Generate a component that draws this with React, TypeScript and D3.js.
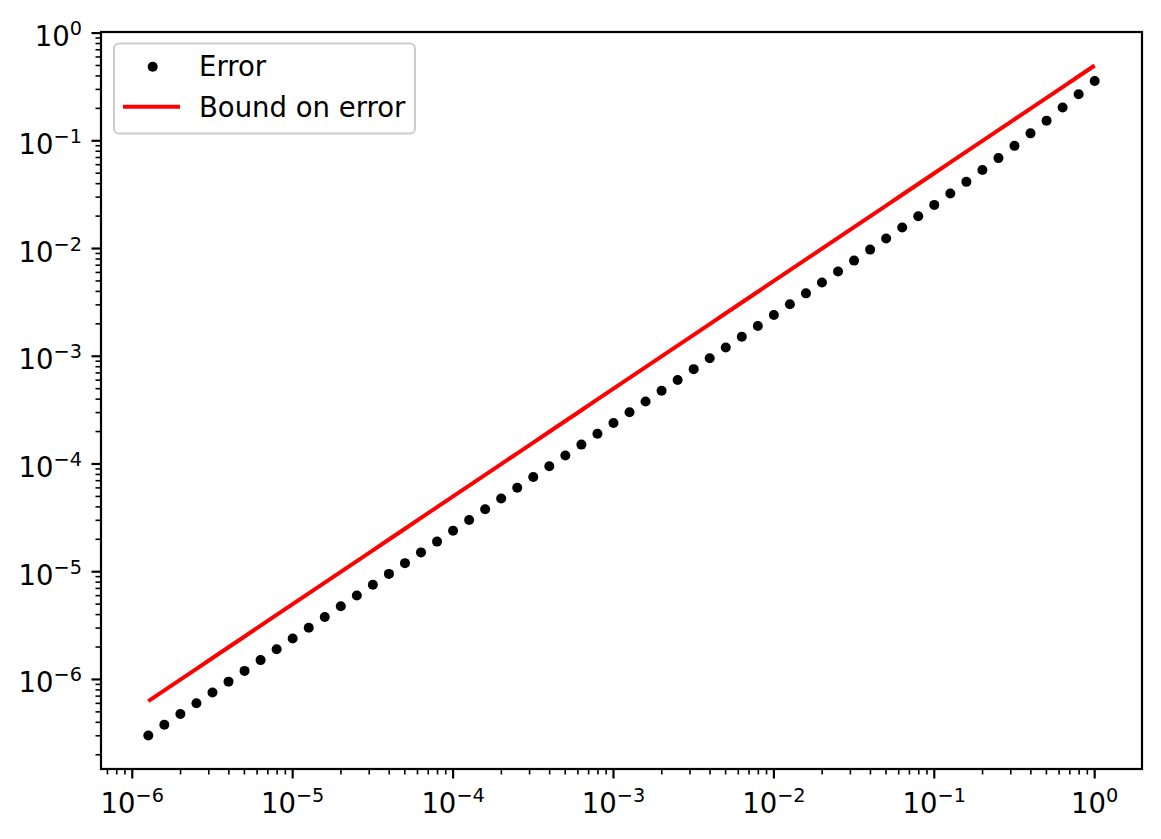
import React, { useEffect } from "react";
import * as d3 from "d3";

// step sizes h (log spaced, 10 per decade)
const stepSizes = [
  1, 0.7943, 0.631, 0.5012, 0.3981, 0.3162, 0.2512, 0.1995, 0.1585, 0.1259,
  0.1, 0.07943, 0.0631, 0.05012, 0.03981, 0.03162, 0.02512, 0.01995, 0.01585, 0.01259,
  0.01, 7.943e-3, 6.31e-3, 5.012e-3, 3.981e-3, 3.162e-3, 2.512e-3, 1.995e-3, 1.585e-3, 1.259e-3,
  1e-3, 7.943e-4, 6.31e-4, 5.012e-4, 3.981e-4, 3.162e-4, 2.512e-4, 1.995e-4, 1.585e-4, 1.259e-4,
  1e-4, 7.943e-5, 6.31e-5, 5.012e-5, 3.981e-5, 3.162e-5, 2.512e-5, 1.995e-5, 1.585e-5, 1.259e-5,
  1e-5, 7.943e-6, 6.31e-6, 5.012e-6, 3.981e-6, 3.162e-6, 2.512e-6, 1.995e-6, 1.585e-6, 1.259e-6,
];

const errorValues = [
  0.3595, 0.27, 0.2034, 0.1539, 0.1172, 0.08973, 0.0691, 0.05348, 0.04158, 0.03246,
  0.02541, 0.01995, 0.0157, 0.01238, 0.009774, 0.007727, 0.006114, 0.004841, 0.003836, 0.003041,
  0.002412, 0.001913, 0.001518, 0.001205, 9.566e-4, 7.595e-4, 6.031e-4, 4.789e-4, 3.803e-4, 3.02e-4,
  2.399e-4, 1.905e-4, 1.513e-4, 1.201e-4, 9.545e-5, 7.582e-5, 6.022e-5, 4.783e-5, 3.799e-5, 3.018e-5,
  2.397e-5, 1.904e-5, 1.512e-5, 1.201e-5, 9.543e-6, 7.58e-6, 6.021e-6, 4.783e-6, 3.799e-6, 3.018e-6,
  2.397e-6, 1.904e-6, 1.512e-6, 1.201e-6, 9.543e-7, 7.58e-7, 6.021e-7, 4.783e-7, 3.799e-7, 3.018e-7,
];

const boundValues = [
  0.5, 0.3972, 0.3155, 0.2506, 0.1991, 0.1581, 0.1256, 0.09976, 0.07924, 0.06295,
  0.05, 0.03972, 0.03155, 0.02506, 0.01991, 0.01581, 0.01256, 0.009976, 0.007924, 0.006295,
  0.005, 3.972e-3, 3.155e-3, 2.506e-3, 1.991e-3, 1.581e-3, 1.256e-3, 9.976e-4, 7.924e-4, 6.295e-4,
  5e-4, 3.972e-4, 3.155e-4, 2.506e-4, 1.991e-4, 1.581e-4, 1.256e-4, 9.976e-5, 7.924e-5, 6.295e-5,
  5e-5, 3.972e-5, 3.155e-5, 2.506e-5, 1.991e-5, 1.581e-5, 1.256e-5, 9.976e-6, 7.924e-6, 6.295e-6,
  5e-6, 3.972e-6, 3.155e-6, 2.506e-6, 1.991e-6, 1.581e-6, 1.256e-6, 9.976e-7, 7.924e-7, 6.295e-7,
];

const legendLabels = ["Error", "Bound on error"];
const majorExponents = [-6, -5, -4, -3, -2, -1, 0];

const FONT = "'DejaVu Sans', sans-serif";
const FONT_SIZE = 27.5;

// log domain with matplotlib-style 5% margins
function logDomain(values: number[]): [number, number] {
  const lo = Math.log10(d3.min(values) as number);
  const hi = Math.log10(d3.max(values) as number);
  const pad = 0.05 * (hi - lo);
  return [Math.pow(10, lo - pad), Math.pow(10, hi + pad)];
}

function createChart(container: string) {
  d3.select(container).select("svg").remove();
  const W = 1161,
    H = 839;
  const plot = { left: 101, right: 1142, top: 32, bottom: 769 };
  const majorLen = 9.5,
    minorLen = 5.5;

  const svg = d3
    .select(container)
    .append("svg")
    .attr("width", W)
    .attr("height", H)
    .style("position", "absolute")
    .style("left", "0px")
    .style("top", "0px")
    .style("font-family", FONT);

  svg.append("rect").attr("width", W).attr("height", H).attr("fill", "#fff");

  const x = d3.scaleLog().domain(logDomain(stepSizes)).range([plot.left, plot.right]);
  const y = d3
    .scaleLog()
    .domain(logDomain(errorValues.concat(boundValues)))
    .range([plot.bottom, plot.top]);

  // bound line
  const line = d3
    .line<number>()
    .x((_, i) => x(stepSizes[i]))
    .y((d) => y(d));
  svg
    .append("path")
    .datum(boundValues)
    .attr("d", line)
    .attr("fill", "none")
    .attr("stroke", "#ff0000")
    .attr("stroke-width", 4);

  // error dots
  svg
    .append("g")
    .selectAll("circle")
    .data(errorValues)
    .join("circle")
    .attr("cx", (_, i) => x(stepSizes[i]))
    .attr("cy", (d) => y(d))
    .attr("r", 5)
    .attr("fill", "#000");

  // spines
  svg
    .append("rect")
    .attr("x", plot.left)
    .attr("y", plot.top)
    .attr("width", plot.right - plot.left)
    .attr("height", plot.bottom - plot.top)
    .attr("fill", "none")
    .attr("stroke", "#000")
    .attr("stroke-width", 2.2);

  const ticks = svg.append("g").attr("stroke", "#000");
  const [x0, x1] = x.domain();
  const [y0, y1] = y.domain();

  // minor ticks
  for (let e = -8; e <= 1; e++) {
    for (let j = 2; j <= 9; j++) {
      const v = j * Math.pow(10, e);
      if (v >= x0 && v <= x1) {
        ticks
          .append("line")
          .attr("x1", x(v))
          .attr("x2", x(v))
          .attr("y1", plot.bottom)
          .attr("y2", plot.bottom + minorLen)
          .attr("stroke-width", 1.6);
      }
      if (v >= y0 && v <= y1) {
        ticks
          .append("line")
          .attr("x1", plot.left)
          .attr("x2", plot.left - minorLen)
          .attr("y1", y(v))
          .attr("y2", y(v))
          .attr("stroke-width", 1.6);
      }
    }
  }

  // major ticks and labels
  const addLabel = (tx: number, ty: number, exp: number, anchor: string) => {
    const t = svg
      .append("text")
      .attr("x", tx)
      .attr("y", ty)
      .attr("text-anchor", anchor)
      .attr("font-size", FONT_SIZE)
      .attr("fill", "#000");
    t.append("tspan").text("10");
    t.append("tspan")
      .attr("font-size", FONT_SIZE * 0.7)
      .attr("dy", -11)
      .text(exp < 0 ? "\u2212" + Math.abs(exp) : String(exp));
  };

  majorExponents.forEach((e) => {
    const v = Math.pow(10, e);
    ticks
      .append("line")
      .attr("x1", x(v))
      .attr("x2", x(v))
      .attr("y1", plot.bottom)
      .attr("y2", plot.bottom + majorLen)
      .attr("stroke-width", 2.2);
    addLabel(x(v), 813, e, "middle");

    ticks
      .append("line")
      .attr("x1", plot.left)
      .attr("x2", plot.left - majorLen)
      .attr("y1", y(v))
      .attr("y2", y(v))
      .attr("stroke-width", 2.2);
    addLabel(82, y(v) + 13, e, "end");
  });

  // legend
  const legend = svg.append("g");
  legend
    .append("rect")
    .attr("x", 114)
    .attr("y", 43.5)
    .attr("width", 301)
    .attr("height", 90)
    .attr("rx", 5)
    .attr("fill", "#fff")
    .attr("fill-opacity", 0.8)
    .attr("stroke", "#cccccc")
    .attr("stroke-width", 2);
  legend.append("circle").attr("cx", 152.7).attr("cy", 66.7).attr("r", 5).attr("fill", "#000");
  legend
    .append("line")
    .attr("x1", 123)
    .attr("x2", 180)
    .attr("y1", 106.7)
    .attr("y2", 106.7)
    .attr("stroke", "#ff0000")
    .attr("stroke-width", 4);
  legendLabels.forEach((label, i) => {
    legend
      .append("text")
      .attr("x", 199)
      .attr("y", 75.5 + i * 41)
      .attr("font-size", FONT_SIZE)
      .attr("fill", "#000")
      .text(label);
  });
}

export default function App() {
  useEffect(() => {
    createChart("#chart1");
  }, []);

  return <div id="chart1" style={{ width: 1161, height: 839 }}></div>;
}
